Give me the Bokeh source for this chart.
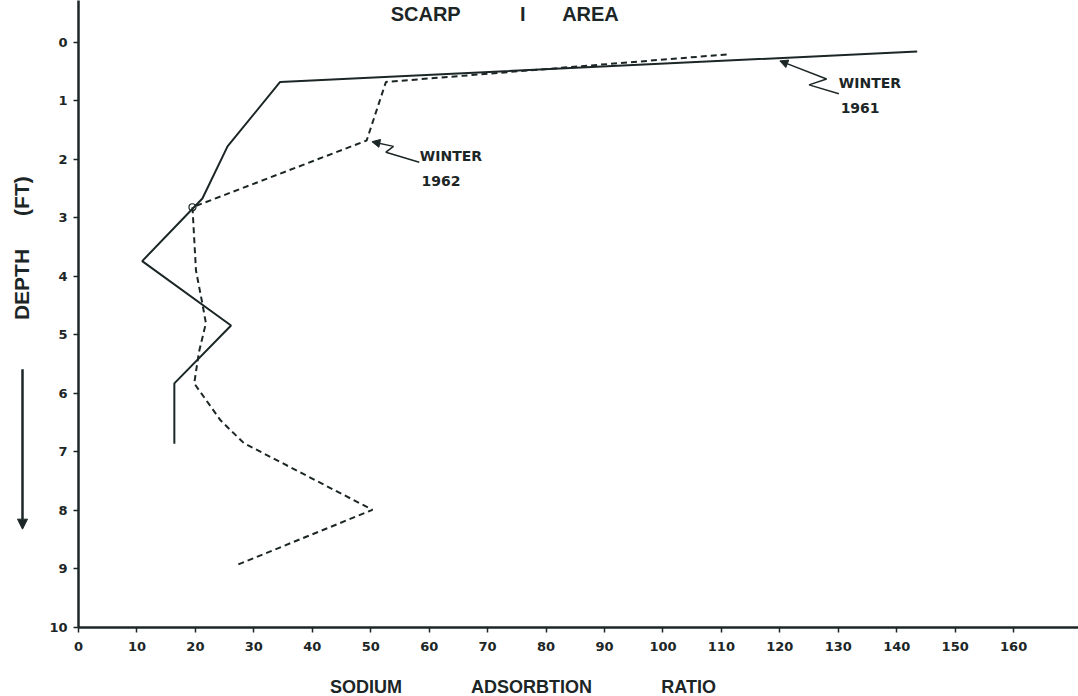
from bokeh.plotting import figure
from bokeh.layouts import column, row
from bokeh.models import Range1d, FixedTicker, Label, Arrow, NormalHead
from bokeh.embed import file_html
from bokeh.resources import INLINE

# ---- data ----
depth_1961 = [0.16, 0.68, 1.78, 2.67, 3.74, 4.84, 5.83, 6.86]
sar_1961 = [143.5, 34.5, 25.5, 21.2, 10.9, 26.1, 16.4, 16.4]

depth_1962 = [0.21, 0.68, 1.68, 2.82, 3.90, 4.47, 4.80, 5.30, 5.83, 6.46, 6.85, 7.99, 8.94]
sar_1962 = [110.9, 52.6, 49.3, 19.5, 20.1, 21.2, 21.8, 20.6, 19.8, 24.3, 28.3, 50.3, 26.9]

x_ticks = [0, 10, 20, 30, 40, 50, 60, 70, 80, 90, 100, 110, 120, 130, 140, 150, 160]
y_ticks = [0, 1, 2, 3, 4, 5, 6, 7, 8, 9, 10]

title_words = ["SCARP", "I", "AREA"]
xlabel_words = ["SODIUM", "ADSORBTION", "RATIO"]
ylabel_words = ["DEPTH", "(FT)"]

INK = "#1c2626"


def bare(fig):
    fig.outline_line_color = None
    fig.grid.visible = False
    fig.background_fill_color = "white"
    fig.border_fill_color = "white"


def lab(fig, x, y, t, size, align="left", angle=0, baseline="middle", font="DejaVu Sans"):
    fig.add_layout(Label(x=x, y=y, text=t, text_font=font, text_font_size=size,
                         text_font_style="bold", text_color=INK, text_align=align,
                         text_baseline=baseline, angle=angle))


# ---------------- main chart ----------------
depth_range = Range1d(10, -0.712)
p = figure(width=1038, height=670, output_backend="svg", toolbar_location=None,
           x_range=Range1d(0, 171.1), y_range=depth_range,
           min_border_left=38, min_border_right=0, min_border_top=0, min_border_bottom=43)
bare(p)

for ax, ticks in ((p.xaxis[0], x_ticks), (p.yaxis[0], y_ticks)):
    ax.ticker = FixedTicker(ticks=ticks)
    ax.axis_line_width = 2.5
    ax.axis_line_color = INK
    ax.major_tick_line_color = INK
    ax.major_tick_line_width = 1.5
    ax.major_tick_out = 5
    ax.major_tick_in = 0
    ax.minor_tick_line_color = None
    ax.major_label_text_font = "DejaVu Sans"
    ax.major_label_text_font_style = "bold"
    ax.major_label_text_font_size = "13px"
    ax.major_label_text_color = INK
p.xaxis[0].major_label_standoff = 9
p.yaxis[0].major_label_standoff = 6

p.line(sar_1961, depth_1961, line_color=INK, line_width=2)
p.line(sar_1962, depth_1962, line_color=INK, line_width=2, line_dash="6 4")
p.scatter([sar_1962[3]], [depth_1962[3]], marker="circle", size=7,
          fill_color=None, line_color=INK, line_width=1.2)

# leader lines for the two notes
lead_61_x = [128.0, 125.0, 130.1]
lead_61_y = [0.63, 0.73, 0.88]
lead_62_x = [53.9, 52.6, 58.3]
lead_62_y = [1.78, 1.88, 2.05]
p.line(lead_61_x, lead_61_y, line_color=INK, line_width=1.5)
p.line(lead_62_x, lead_62_y, line_color=INK, line_width=1.5)
p.add_layout(Arrow(end=NormalHead(size=8, fill_color=INK, line_color=INK),
                   x_start=128.0, y_start=0.63, x_end=120.0, y_end=0.32,
                   line_color=INK, line_width=1.5))
p.add_layout(Arrow(end=NormalHead(size=8, fill_color=INK, line_color=INK),
                   x_start=53.9, y_start=1.78, x_end=50.2, y_end=1.70,
                   line_color=INK, line_width=1.5))

lab(p, 130.1, 0.69, "WINTER", "14px")
lab(p, 130.4, 1.13, "1961", "14px")
lab(p, 58.4, 1.95, "WINTER", "14px")
lab(p, 58.7, 2.38, "1962", "14px")

for w, xx in zip(title_words, [59.4, 76.0, 87.6]):
    lab(p, xx, -0.48, w, "20px", align="center", baseline="alphabetic", font="Liberation Sans")

# ---------------- left strip: depth title and arrow ----------------
left = figure(width=40, height=670, output_backend="svg", toolbar_location=None,
              x_range=Range1d(0, 40), y_range=depth_range,
              x_axis_type=None, y_axis_type=None,
              min_border_left=0, min_border_right=0, min_border_top=0, min_border_bottom=0)
bare(left)
for w, yy in zip(ylabel_words, [4.14, 2.63]):
    lab(left, 21, yy, w, "21px", align="center", angle=1.5708, font="Liberation Sans")
left.add_layout(Arrow(end=NormalHead(size=10, fill_color=INK, line_color=INK),
                      x_start=22, y_start=5.59, x_end=22, y_end=8.32,
                      line_color=INK, line_width=2.5))

# ---------------- bottom strip: x title ----------------
bottom = figure(width=1078, height=26, output_backend="svg", toolbar_location=None,
                x_range=Range1d(-13.34, 171.1), y_range=Range1d(0, 1),
                x_axis_type=None, y_axis_type=None,
                min_border_left=0, min_border_right=0, min_border_top=0, min_border_bottom=0)
bare(bottom)
for w, xx in zip(xlabel_words, [49.2, 77.5, 104.4]):
    lab(bottom, xx, 0.35, w, "18px", align="center", font="Liberation Sans")

layout = column(row(left, p, spacing=0), bottom, spacing=0)
open("out.html", "w").write(file_html(layout, INLINE))
